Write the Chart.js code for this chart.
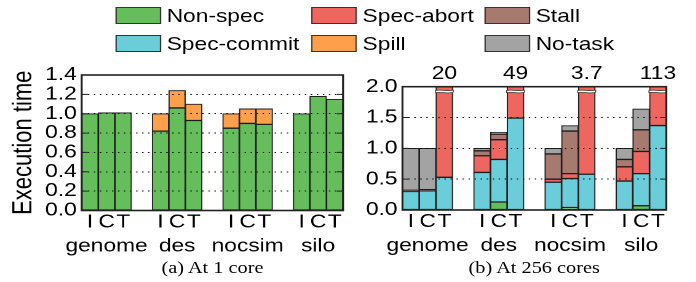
<!DOCTYPE html>
<html>
<head>
<meta charset="utf-8">
<script src="https://cdn.jsdelivr.net/npm/chart.js@4.4.0/dist/chart.umd.min.js"></script>
<style>
  html, body { margin: 0; padding: 0; background: #fff; overflow: hidden; }
  /* the original figure is stretched sideways, so draw narrow and stretch it */
  #fig { position: absolute; left: 0; top: 0; width: 566px; height: 282px;
         transform: scaleX(1.23); transform-origin: 0 0;
         font-family: 'Liberation Sans', Arial, sans-serif; }
  .item { position: absolute; height: 19px; font-size: 18.5px; line-height: 19px; white-space: nowrap; color: #000; }
  .item .box { position: absolute; left: 0; top: 1px; width: 37px; height: 17px; box-sizing: border-box; border: 1px solid #333; }
  .item .txt { position: absolute; left: 42px; top: 0; }
  canvas { position: absolute; top: 50px; }
  .cap { position: absolute; top: 258px; font-family: 'Liberation Serif', 'Times New Roman', serif;
         font-size: 16.5px; line-height: 19px; white-space: nowrap; transform: translateX(-50%); }
</style>
</head>
<body>
<div id="fig">
  <div id="legend"></div>
  <canvas id="one" width="283" height="216" style="left:0px;width:283px;height:216px"></canvas>
  <canvas id="many" width="283" height="216" style="left:283px;width:283px;height:216px"></canvas>
  <div class="cap" style="left:172.7px">(a) At 1 core</div>
  <div class="cap" style="left:434.3px">(b) At 256 cores</div>
</div>
<script>
const GROUPS = ['genome', 'des', 'nocsim', 'silo'];
const VARIANTS = ['I', 'C', 'T'];
const SERIES = ['Non-spec', 'Spec-commit', 'Spec-abort', 'Spill', 'Stall', 'No-task'];
const COLORS = ['#65bd5b', '#6bcdd9', '#ee6660', '#fd9f4b', '#a67a6f', '#a3a3a3'];
const LEGEND_ORDER = ['Non-spec', 'Spec-abort', 'Stall', 'Spec-commit', 'Spill', 'No-task'];

// At 1 core, bars: genome I C T, des I C T, nocsim I C T, silo I C T
const nonSpec1    = [1.00, 1.01, 1.01, 0.82, 1.06, 0.93, 0.85, 0.90, 0.89, 1.00, 1.18, 1.15];
const specCommit1 = [0, 0, 0, 0, 0, 0, 0, 0, 0, 0, 0, 0];
const specAbort1  = [0, 0, 0, 0, 0, 0, 0, 0, 0, 0, 0, 0];
const spill1      = [0, 0, 0, 0.18, 0.18, 0.17, 0.15, 0.15, 0.16, 0, 0, 0];
const stall1      = [0, 0, 0, 0, 0, 0, 0, 0, 0, 0, 0, 0];
const noTask1     = [0, 0, 0, 0, 0, 0, 0, 0, 0, 0, 0, 0];

// At 256 cores
const nonSpec256    = [0, 0, 0, 0, 0.13, 0, 0, 0.04, 0, 0, 0.07, 0];
const specCommit256 = [0.30, 0.31, 0.53, 0.61, 0.69, 1.49, 0.45, 0.47, 0.58, 0.47, 0.52, 1.37];
const specAbort256  = [0, 0, 19.47, 0.27, 0.32, 47.51, 0.05, 0.08, 3.12, 0.23, 0.36, 111.63];
const spill256      = [0, 0, 0, 0, 0, 0, 0, 0, 0, 0, 0, 0];
const stall256      = [0.02, 0.02, 0, 0.08, 0.09, 0, 0.41, 0.69, 0, 0.12, 0.35, 0];
const noTask256     = [0.68, 0.67, 0, 0.04, 0.03, 0, 0.09, 0.09, 0, 0.18, 0.34, 0];

// bars running off the top of the 256-core plot, with their printed totals
const CUT_BARS = [2, 5, 8, 11];
const CUT_LABELS = ['20', '49', '3.7', '113'];
const BREAK_AT = 1.93;

const YTICKS_ONE = { max: 1.4, step: 0.2 };
const YTICKS_MANY = { max: 2.0, step: 0.5 };

const GAP = 1.25;
const XPOS = [];
GROUPS.forEach((g, k) => VARIANTS.forEach((v, j) => XPOS.push(k * (3 + GAP) + j)));

Chart.defaults.font.family = "'Liberation Sans', Arial, sans-serif";
Chart.defaults.font.size = 18.5;
Chart.defaults.color = '#000';

// legend
const legendEl = document.getElementById('legend');
const legCols = [93.5, 252.8, 393.5];
const legRows = [6, 34];
LEGEND_ORDER.forEach((name, i) => {
  const d = document.createElement('div');
  d.className = 'item';
  d.style.left = legCols[i % 3] + 'px';
  d.style.top = legRows[Math.floor(i / 3)] + 'px';
  d.innerHTML = '<span class="box" style="background:' + COLORS[SERIES.indexOf(name)] + '"></span><span class="txt">' + name + '</span>';
  legendEl.appendChild(d);
});

const frame = {
  id: 'frame',
  afterDraw(chart) {
    const { ctx, chartArea: a, scales } = chart;
    ctx.save();
    ctx.strokeStyle = '#222';
    ctx.lineWidth = 1;
    scales.y.ticks.forEach(t => {
      const y = scales.y.getPixelForValue(t.value);
      ctx.beginPath();
      ctx.moveTo(a.left, y); ctx.lineTo(a.left + 5, y);
      ctx.moveTo(a.right - 5, y); ctx.lineTo(a.right, y);
      ctx.stroke();
    });
    ctx.lineWidth = 1.6;
    ctx.strokeRect(a.left, a.top, a.right - a.left, a.bottom - a.top);
    ctx.restore();
  }
};

const breaks = {
  id: 'breaks',
  afterDatasetsDraw(chart) {
    const { ctx, chartArea: a, scales: { x, y } } = chart;
    ctx.save();
    CUT_BARS.forEach((idx, k) => {
      const cx = x.getPixelForValue(XPOS[idx]);
      const half = (x.getPixelForValue(1) - x.getPixelForValue(0)) / 2 + 0.5;
      const L = cx - half, R = cx + half, yb = y.getPixelForValue(BREAK_AT);
      ctx.beginPath();
      ctx.moveTo(L, yb - 0.5);
      ctx.bezierCurveTo(cx - half * 0.3, yb - 2, cx + half * 0.3, yb + 1, R, yb - 1);
      ctx.lineTo(R, yb + 1.2);
      ctx.bezierCurveTo(cx + half * 0.3, yb + 3.2, cx - half * 0.3, yb + 0.2, L, yb + 1.7);
      ctx.closePath();
      ctx.fillStyle = '#fff';
      ctx.fill();
      ctx.strokeStyle = '#333';
      ctx.lineWidth = 0.7;
      ctx.stroke();
      ctx.fillStyle = '#000';
      ctx.font = "18.5px 'Liberation Sans', Arial, sans-serif";
      ctx.textAlign = 'center';
      ctx.textBaseline = 'middle';
      ctx.fillText(CUT_LABELS[k], cx, a.top - 13);
    });
    ctx.restore();
  }
};

function makeChart(id, series, yt, opt) {
  const datasets = SERIES.map((name, s) => ({
    label: name,
    data: series[s].map((v, i) => ({ x: XPOS[i], y: v })),
    backgroundColor: COLORS[s],
    borderColor: '#1e1e1e',
    borderWidth: 1,
    borderSkipped: false,
    barPercentage: 1,
    categoryPercentage: 1
  }));
  return new Chart(document.getElementById(id), {
    type: 'bar',
    data: { datasets },
    options: {
      responsive: false,
      animation: false,
      devicePixelRatio: 2,
      layout: { padding: opt.padding },
      plugins: { legend: { display: false }, tooltip: { enabled: false } },
      scales: {
        x: {
          type: 'linear',
          stacked: true,
          offset: false,
          min: -0.5,
          max: XPOS[XPOS.length - 1] + 0.5,
          grid: { display: false, drawTicks: false },
          border: { display: false },
          afterBuildTicks: axis => { axis.ticks = XPOS.map(v => ({ value: v })); },
          afterFit: axis => { axis.height = opt.xHeight; },
          ticks: {
            autoSkip: false,
            maxRotation: 0,
            padding: 0,
            font: { size: 18.5, lineHeight: '24px' },
            callback: (v, i) => i % 3 === 1 ? ['C', GROUPS[(i - 1) / 3]] : VARIANTS[i % 3]
          }
        },
        y: {
          stacked: true,
          min: 0,
          max: yt.max,
          afterFit: axis => { axis.width = opt.yWidth; },
          grid: { color: '#111', lineWidth: 1, drawTicks: false, z: 1 },
          border: { display: false, dash: [1.2, 3.7] },
          ticks: { stepSize: yt.step, autoSkip: false, padding: 4, callback: v => v.toFixed(1) },
          title: opt.title ? { display: true, text: opt.title, font: { size: 22 }, padding: { top: 6.3, bottom: 0 } } : { display: false }
        }
      }
    },
    plugins: opt.cut ? [frame, breaks] : [frame]
  });
}

makeChart('one', [nonSpec1, specCommit1, specAbort1, spill1, stall1, noTask1], YTICKS_ONE, {
  padding: { top: 25, right: 4.1, left: 0, bottom: 0 },
  xHeight: 55.5,
  yWidth: 66.4,
  title: 'Execution time'
});

makeChart('many', [nonSpec256, specCommit256, specAbort256, spill256, stall256, noTask256], YTICKS_MANY, {
  padding: { top: 36.7, right: 24.3, left: 0, bottom: 0 },
  xHeight: 56,
  yWidth: 44.2,
  cut: true
});
</script>
</body>
</html>
